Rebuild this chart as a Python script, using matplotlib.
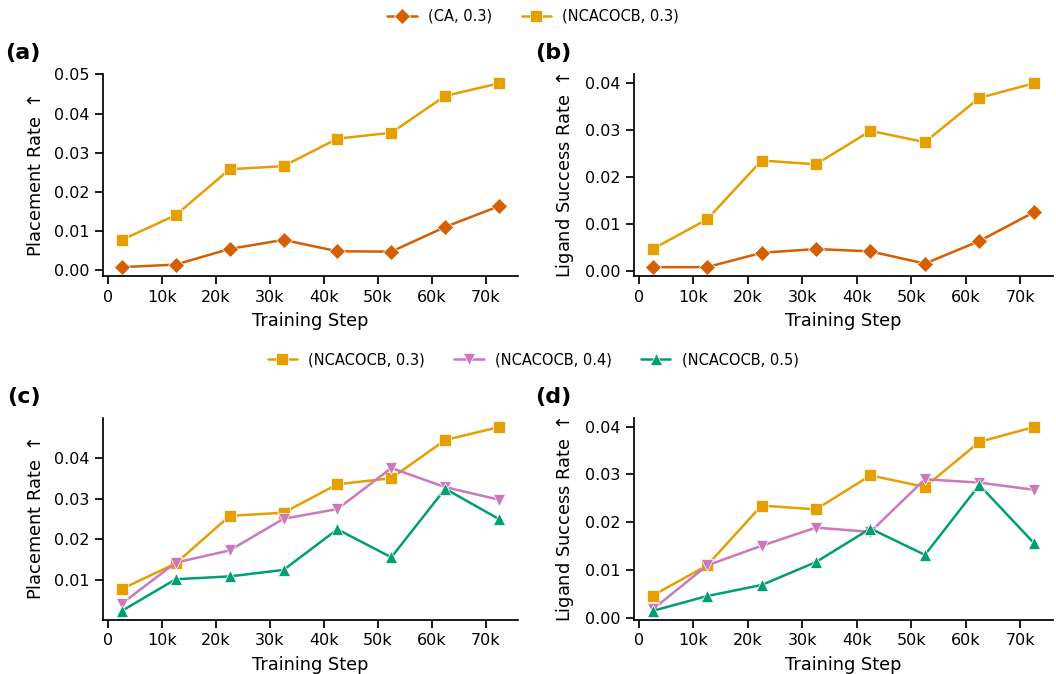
import matplotlib
matplotlib.use("Agg")
import matplotlib.pyplot as plt
import seaborn as sns
from matplotlib.ticker import FuncFormatter


steps = [2500, 12500, 22500, 32500, 42500, 52500, 62500, 72500]

# top row: CA vs NCACOCB at 0.3
place_ca_03 = [0.00085, 0.0015, 0.0055, 0.0078, 0.0049, 0.0048, 0.0111, 0.0164]
place_nc_03 = [0.0078, 0.0141, 0.0258, 0.0266, 0.0336, 0.0351, 0.0445, 0.0477]
lig_ca_03 = [0.00085, 0.00085, 0.0039, 0.0047, 0.0042, 0.0016, 0.0064, 0.0125]
lig_nc_03 = [0.0047, 0.0110, 0.0235, 0.0227, 0.0298, 0.0274, 0.0368, 0.0399]

# bottom row: NCACOCB at 0.3 / 0.4 / 0.5
place_nc_04 = [0.0042, 0.0143, 0.0173, 0.0251, 0.0275, 0.0376, 0.0329, 0.0298]
place_nc_05 = [0.0024, 0.0102, 0.0109, 0.0125, 0.0225, 0.0156, 0.0325, 0.0250]
lig_nc_04 = [0.0018, 0.0110, 0.0151, 0.0189, 0.0180, 0.0290, 0.0283, 0.0268]
lig_nc_05 = [0.0015, 0.0046, 0.0069, 0.0117, 0.0187, 0.0132, 0.0278, 0.0157]

C_CA = "#d55e00"
C_03 = "#e69f00"
C_04 = "#cc78bc"
C_05 = "#029e73"


def line(ax, y, color, marker, label):
    return ax.plot(steps, y, color=color, marker=marker, markersize=8,
                   markeredgecolor="white", markeredgewidth=0.5,
                   linewidth=1.8, label=label)[0]


def kfmt(x, pos):
    return "0" if x == 0 else f"{int(x / 1000)}k"


def style(ax, ylabel):
    ax.set_xlabel("Training Step", labelpad=5.5)
    ax.set_ylabel(ylabel, labelpad=6.5)
    ax.set_xticks([0, 10000, 20000, 30000, 40000, 50000, 60000, 70000])
    ax.xaxis.set_major_formatter(FuncFormatter(kfmt))
    sns.despine(ax=ax)


sns.set_theme(style="ticks", context="notebook")
plt.rcParams.update({
    "font.family": ["DejaVu Sans"],
    "text.color": "black",
    "axes.labelcolor": "black",
    "axes.edgecolor": "black",
    "xtick.color": "black",
    "ytick.color": "black",
    "xtick.labelsize": 11.5,
    "ytick.labelsize": 11.5,
    "axes.labelsize": 12.8,
})

fig = plt.figure(figsize=(10.56, 6.74), dpi=100)
ax_a = fig.add_axes([0.0975, 0.590, 0.393, 0.300])
ax_b = fig.add_axes([0.600, 0.590, 0.397, 0.300])
ax_c = fig.add_axes([0.0975, 0.080, 0.393, 0.300])
ax_d = fig.add_axes([0.600, 0.080, 0.397, 0.300])

h1 = line(ax_a, place_ca_03, C_CA, "D", "(CA, 0.3)")
h2 = line(ax_a, place_nc_03, C_03, "s", "(NCACOCB, 0.3)")
line(ax_b, lig_ca_03, C_CA, "D", "(CA, 0.3)")
line(ax_b, lig_nc_03, C_03, "s", "(NCACOCB, 0.3)")

g1 = line(ax_c, place_nc_03, C_03, "s", "(NCACOCB, 0.3)")
g2 = line(ax_c, place_nc_04, C_04, "v", "(NCACOCB, 0.4)")
g3 = line(ax_c, place_nc_05, C_05, "^", "(NCACOCB, 0.5)")
line(ax_d, lig_nc_03, C_03, "s", "(NCACOCB, 0.3)")
line(ax_d, lig_nc_04, C_04, "v", "(NCACOCB, 0.4)")
line(ax_d, lig_nc_05, C_05, "^", "(NCACOCB, 0.5)")

style(ax_a, "Placement Rate $\\uparrow$")
style(ax_b, "Ligand Success Rate $\\uparrow$")
style(ax_c, "Placement Rate $\\uparrow$")
style(ax_d, "Ligand Success Rate $\\uparrow$")

for ax, lab, x, y in [(ax_a, "(a)", 0.005, 0.921), (ax_b, "(b)", 0.507, 0.921),
                      (ax_c, "(c)", 0.007, 0.411), (ax_d, "(d)", 0.507, 0.411)]:
    fig.text(x, y, lab, fontsize=16, fontweight="bold", va="center", ha="left")

fig.legend(handles=[h1, h2], loc="center", bbox_to_anchor=(0.505, 0.976),
           ncol=2, frameon=False, fontsize=10.5, columnspacing=2.0)
fig.legend(handles=[g1, g2, g3], loc="center", bbox_to_anchor=(0.505, 0.466),
           ncol=3, frameon=False, fontsize=10.5, columnspacing=2.0)

fig.savefig("out.png", dpi=100)
